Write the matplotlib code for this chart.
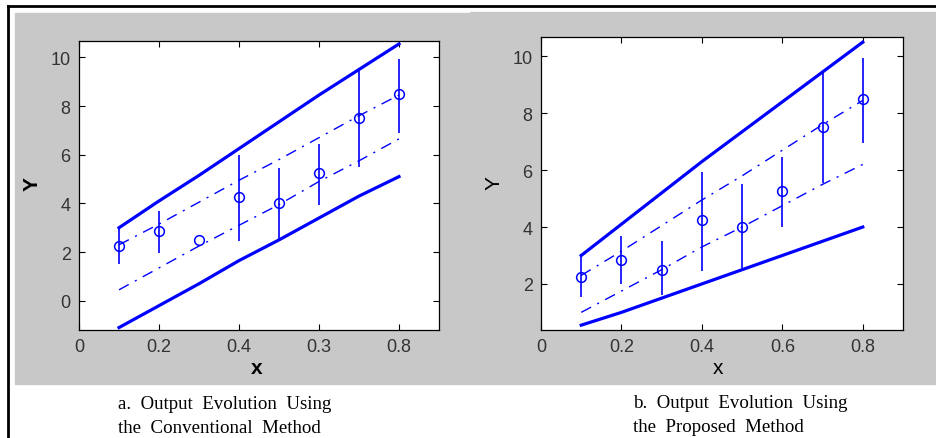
"""Output evolution: conventional vs proposed method (two MATLAB-style panels)."""

import matplotlib
matplotlib.use("Agg")  # headless
import matplotlib.pyplot as plt
import numpy as np
from matplotlib.patches import Rectangle
from matplotlib.lines import Line2D

W, H = 937, 439
BLUE = "#0000ff"
GRAY = "#c8c8c8"

# x positions of the samples (same for both panels)
x_pts = [0.1, 0.2, 0.3, 0.4, 0.5, 0.6, 0.7, 0.8]

# panel a: conventional method
a_mean = [2.25, 2.85, 2.5, 4.25, 4.0, 5.25, 7.5, 8.5]
a_err_lo = [1.5, 1.95, np.nan, 2.45, 2.5, 3.95, 5.5, 6.9]
a_err_hi = [3.0, 3.7, np.nan, 6.0, 5.45, 6.45, 9.55, 9.95]
a_upper = [3.0, 4.1, 5.15, 6.25, 7.35, 8.45, 9.5, 10.55]
a_lower = [-1.1, -0.2, 0.7, 1.65, 2.5, 3.4, 4.3, 5.1]
a_dash_hi = [2.3, 3.15, 4.05, 4.95, 5.8, 6.7, 7.6, 8.45]
a_dash_lo = [0.45, 1.35, 2.25, 3.1, 3.95, 4.9, 5.75, 6.65]
a_xticks = [0, 0.2, 0.4, 0.6, 0.8]
a_xticklabels = ["0", "0.2", "0.4", "0.3", "0.8"]  # as printed in the source
a_yticks = [0, 2, 4, 6, 8, 10]

# panel b: proposed method
b_mean = [2.25, 2.85, 2.5, 4.25, 4.0, 5.25, 7.5, 8.5]
b_err_lo = [1.55, 2.0, 1.6, 2.45, 2.55, 4.0, 5.55, 6.95]
b_err_hi = [3.05, 3.7, 3.5, 5.95, 5.5, 6.45, 9.4, 9.95]
b_upper = [3.0, 4.1, 5.2, 6.3, 7.35, 8.4, 9.45, 10.5]
b_lower = [0.55, 1.0, 1.5, 2.0, 2.5, 3.0, 3.5, 4.0]
b_dash_hi = [2.3, 3.15, 4.05, 4.95, 5.8, 6.7, 7.6, 8.45]
b_dash_lo = [1.0, 1.75, 2.5, 3.3, 4.0, 4.75, 5.5, 6.2]
b_xticks = [0, 0.2, 0.4, 0.6, 0.8]
b_xticklabels = ["0", "0.2", "0.4", "0.6", "0.8"]
b_yticks = [2, 4, 6, 8, 10]

DASHDOT = (0, (8, 5, 1.5, 5))


def px_axes(fig, x0, y0, x1, y1):
    return fig.add_axes([x0 / W, 1 - y1 / H, (x1 - x0) / W, (y1 - y0) / H])


def draw_panel(ax, mean, lo, hi, upper, lower, dhi, dlo, ylim,
               xticks, xticklabels, yticks):
    ax.set_facecolor("white")
    ax.plot(x_pts, upper, color=BLUE, lw=2.3)
    ax.plot(x_pts, lower, color=BLUE, lw=2.3)
    ax.plot(x_pts, dhi, color=BLUE, lw=1.0, ls=DASHDOT)
    ax.plot(x_pts, dlo, color=BLUE, lw=1.0, ls=DASHDOT)
    ax.vlines(x_pts, lo, hi, color=BLUE, lw=1.2)
    ax.plot(x_pts, mean, "o", mfc="none", mec=BLUE, ms=7, mew=1.1)
    ax.set_xlim(0, 0.9)
    ax.set_ylim(*ylim)
    ax.set_xticks(xticks)
    ax.set_xticklabels(xticklabels)
    ax.set_yticks(yticks)
    ax.tick_params(direction="in", length=4, top=True, right=True,
                   labelsize=13, labelcolor="#333333", width=0.8, pad=6)
    for s in ax.spines.values():
        s.set_linewidth(0.9)


def main():
    plt.rcParams["font.family"] = ["Liberation Sans", "DejaVu Sans"]
    fig = plt.figure(figsize=(W / 100, H / 100), dpi=100)
    fig.patch.set_facecolor("white")

    # gray MATLAB figure backgrounds and the page border
    fig.add_artist(Rectangle((15 / W, 1 - 385 / H), (470 - 15) / W, (385 - 14) / H,
                             transform=fig.transFigure, color=GRAY, zorder=-2))
    fig.add_artist(Rectangle((470 / W, 1 - 385 / H), (W - 470) / W, (385 - 13) / H,
                             transform=fig.transFigure, color=GRAY, zorder=-2))
    fig.add_artist(Line2D([8 / W, 1], [1 - 7 / H, 1 - 7 / H],
                          transform=fig.transFigure, color="black", lw=2))
    fig.add_artist(Line2D([8 / W, 8 / W], [0, 1 - 7 / H],
                          transform=fig.transFigure, color="black", lw=2))

    ax_a = px_axes(fig, 79, 42, 439, 331)
    draw_panel(ax_a, a_mean, a_err_lo, a_err_hi, a_upper, a_lower,
               a_dash_hi, a_dash_lo, (-1.2, 10.67),
               a_xticks, a_xticklabels, a_yticks)
    ax_b = px_axes(fig, 541, 38, 903, 331)
    draw_panel(ax_b, b_mean, b_err_lo, b_err_hi, b_upper, b_lower,
               b_dash_hi, b_dash_lo, (0.38, 10.68),
               b_xticks, b_xticklabels, b_yticks)

    # axis labels placed in figure pixels
    def ftext(x, y, s, **kw):
        fig.text(x / W, 1 - y / H, s, **kw)

    ftext(257, 368, "x", fontsize=15, fontweight="bold", ha="center", va="center")
    ftext(32, 184, "Y", fontsize=15, fontweight="bold", ha="center", va="center",
          rotation=90)
    ftext(718, 368, "x", fontsize=15, ha="center", va="center")
    ftext(494, 183, "Y", fontsize=15, ha="center", va="center", rotation=90)

    # captions
    cap = dict(fontsize=13.6, family=["Liberation Serif", "DejaVu Serif"],
               ha="left", va="baseline")
    ftext(118, 409, "a.  Output  Evolution  Using", **cap)
    ftext(118, 433, "the  Conventional  Method", **cap)
    ftext(633, 408, "b.  Output  Evolution  Using", **cap)
    ftext(633, 432, "the  Proposed  Method", **cap)

    fig.savefig("out.png", dpi=100, facecolor=fig.get_facecolor())
    plt.close(fig)


if __name__ == "__main__":
    main()
